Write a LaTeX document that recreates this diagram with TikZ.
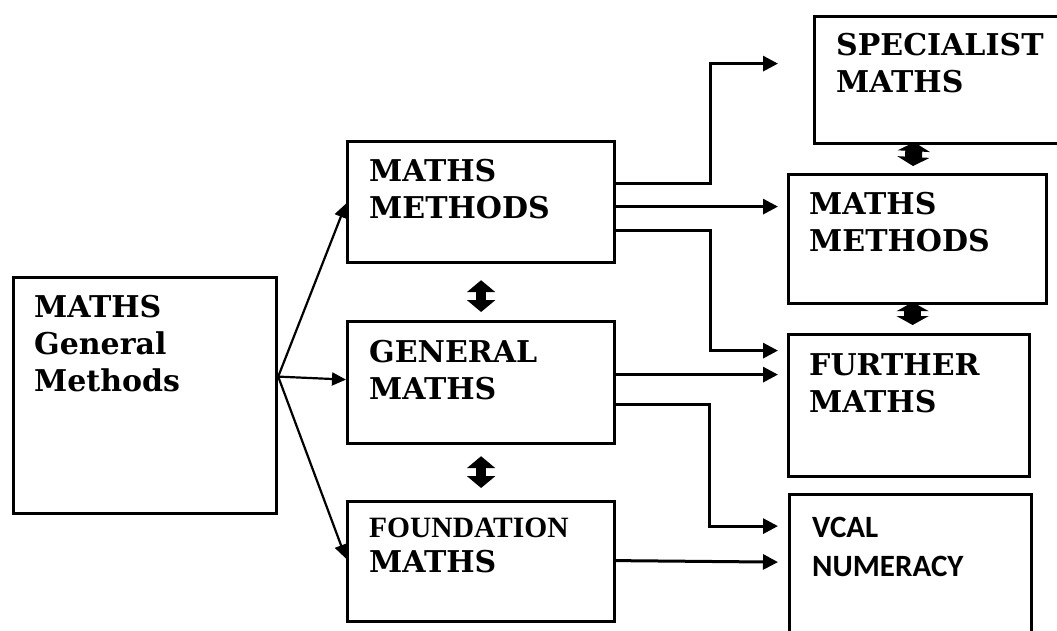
\documentclass[tikz,border=0pt]{standalone}
\usepackage{fontspec}
\setmainfont{DejaVu Serif}
\newfontfamily\libfont{Liberation Serif}
\newfontfamily\carlfont{Carlito}
\usetikzlibrary{arrows.meta,backgrounds}
\tikzset{
  box/.style={draw,line width=3.2pt,fill=white,inner sep=0pt,anchor=north west},
  txt/.style={anchor=north west,inner sep=0pt,align=left,font=\bfseries\fontsize{30}{37}\selectfont},
  conn/.style={line width=3pt,-{Triangle[length=15pt,width=15pt]}},
  fan/.style={line width=2.2pt,-{Triangle[length=14pt,width=13pt]}},
  midarrow/.style={line width=10pt,{Triangle[length=12pt,width=28pt]}-{Triangle[length=12pt,width=28pt]}},
  rightarrow/.style={line width=17pt,{Triangle[length=9pt,width=32pt]}-{Triangle[length=9pt,width=32pt]}}
}
\begin{document}
\begin{tikzpicture}[x=1pt,y=-1pt]
\useasboundingbox (0,0) rectangle (1057,630);
% boxes
\node[box,minimum width=263pt,minimum height=236pt] (L) at (12,276) {};
\node[box,minimum width=267pt,minimum height=121pt] (M1) at (346,140) {};
\node[box,minimum width=267pt,minimum height=122pt] (M2) at (346,320) {};
\node[box,minimum width=267pt,minimum height=120pt] (M3) at (346,500) {};
\node[box,minimum width=250pt,minimum height=127pt] (R0) at (813,15) {};
\node[box,minimum width=258pt,minimum height=129pt] (R1) at (787,173) {};
\node[box,minimum width=241pt,minimum height=142pt] (R2) at (787,333) {};
\node[box,minimum width=242pt,minimum height=150pt] (R3) at (788,493) {};
% texts
\node[txt] (tL) at (34,295) {MATHS\\General\\Methods};
\node[txt] (tM1) at (369,159) {MATHS\\METHODS};
\node[txt] (tM2) at (369,340) {GENERAL\\MATHS};
\node[txt] (tM3) at (369,518) {{\libfont\fontsize{29.5}{35}\selectfont FOUNDATION}\\[-2pt]MATHS};
\node[txt] (tR0) at (836,33) {SPECIALIST\\MATHS};
\node[txt] (tR1) at (809,192) {MATHS\\METHODS};
\node[txt] (tR2) at (809,353) {FURTHER\\MATHS};
\node[txt,font=\carlfont\bfseries\fontsize{31}{39}\selectfont] (tR3) at (812,517) {VCAL\\NUMERACY};
% fan
\draw[fan] ([yshift=19pt]L.east) -- ([yshift=-1.5pt]M1.west);
\draw[fan] ([yshift=19pt]L.east) -- ([yshift=3pt]M2.west);
\draw[fan] ([yshift=19pt]L.east) -- ([yshift=3pt]M3.west);
% connectors
\draw[conn] ([yshift=18.5pt]M1.east) -- ++(94,0) |- ([xshift=-35pt,yshift=16.5pt]R0.west);
\draw[conn] ([yshift=-4.5pt]M1.east) -- ([xshift=-9pt,yshift=32.5pt]R1.west);
\draw[conn] ([yshift=-28.5pt]M1.east) -- ++(94,0) |- ([xshift=-9pt,yshift=55pt]R2.west);
\draw[conn] ([yshift=8pt]M2.east) -- ([xshift=-9pt,yshift=31pt]R2.west);
\draw[conn] ([yshift=-22pt]M2.east) -- ++(93,0) |- ([xshift=-10pt,yshift=43.5pt]R3.west);
\draw[conn] ([yshift=1pt]M3.east) -- ([xshift=-10pt,yshift=7.5pt]R3.west);
% double arrows
\draw[midarrow,shorten <=16pt,shorten >=8pt] (M1.south) -- (M2.north);
\draw[midarrow,shorten <=11pt,shorten >=12pt] (M2.south) -- (M3.north);
\begin{scope}[on background layer]
\draw[rightarrow,shorten <=-3pt,shorten >=7pt] ([xshift=-25.5pt]R0.south) -- ([xshift=-5pt]R1.north);
\draw[rightarrow,shorten <=-3pt,shorten >=8pt] ([xshift=-5pt]R1.south) -- ([xshift=3.5pt]R2.north);
\end{scope}
\end{tikzpicture}
\end{document}
